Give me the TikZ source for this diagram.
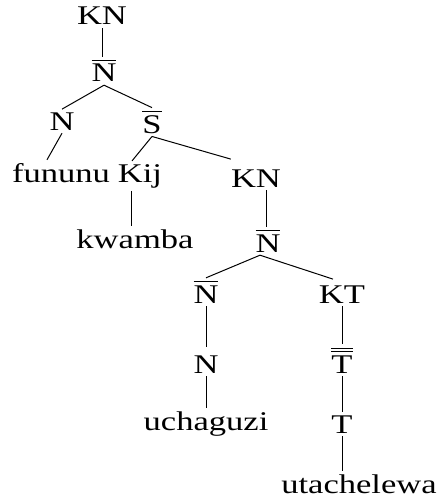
\documentclass[tikz,border=0pt]{standalone}
\usepackage{fontspec}
\setmainfont[FakeStretch=1.28]{Liberation Serif}
\newcommand\ovl[1]{\leavevmode\vbox{\hrule height 1.1pt\kern 3.2pt\hbox{#1}}}
\newcommand\ovll[1]{\leavevmode\vbox{\hrule height 1.1pt\kern 2.6pt\hrule height 1.1pt\kern 3pt\hbox{#1}}}
\begin{document}
\begin{tikzpicture}[x=1pt,y=-1pt,
  lbl/.style={anchor=base,inner sep=3pt,font=\fontsize{27}{32}\selectfont},
  edge/.style={line width=1pt}]
\useasboundingbox (0,0) rectangle (445,500);
\node[lbl] (kn1) at (102,25) {KN};
\node[lbl] (nb1) at (104,82) {\ovl{N}};
\node[lbl] (n1) at (62,130) {N};
\node[lbl] (sb) at (152,133) {\ovl{S}};
\node[lbl] (fununu) at (61,182) {fununu};
\node[lbl] (kij) at (140,182) {Kij};
\node[lbl] (kn2) at (256,187) {KN};
\node[lbl] (kwamba) at (135,248) {kwamba};
\node[lbl] (nb2) at (268,252) {\ovl{N}};
\node[lbl] (nb3) at (206,303) {\ovl{N}};
\node[lbl] (kt) at (342,303) {KT};
\node[lbl] (n2) at (206,373) {N};
\node[lbl] (tbb) at (342,373) {\ovll{T}};
\node[lbl] (uchaguzi) at (206,430) {uchaguzi};
\node[lbl] (t) at (342,433) {T};
\node[lbl] (utach) at (359,493) {utachelewa};
\draw[edge] (kn1.south) -- (kn1.south |- nb1.north);
\draw[edge] (nb1.south) -- (n1.north);
\draw[edge] (nb1.south) -- (sb.north);
\draw[edge] (n1.south) -- ([xshift=-14pt]fununu.north);
\draw[edge] (sb.south) -- ([xshift=-8pt]kij.north);
\draw[edge] (sb.south) -- ([xshift=3pt,yshift=7pt]kn2.north west);
\draw[edge] ([xshift=-9pt]kij.south) -- ([xshift=-9pt]kij.south |- kwamba.north);
\draw[edge] ([xshift=10pt]kn2.south) -- ([xshift=10pt]kn2.south |- nb2.north);
\draw[edge] ([xshift=-8pt]nb2.south) -- (nb3.north);
\draw[edge] ([xshift=-8pt]nb2.south) -- ([xshift=-9pt,yshift=3pt]kt.north);
\draw[edge] (nb3.south) -- ([yshift=5pt]n2.north);
\draw[edge] (kt.south) -- (kt.south |- tbb.north);
\draw[edge] (n2.south) -- (n2.south |- uchaguzi.north);
\draw[edge] (tbb.south) -- (tbb.south |- t.north);
\draw[edge] (t.south) -- (t.south |- utach.north);
\end{tikzpicture}
\end{document}
